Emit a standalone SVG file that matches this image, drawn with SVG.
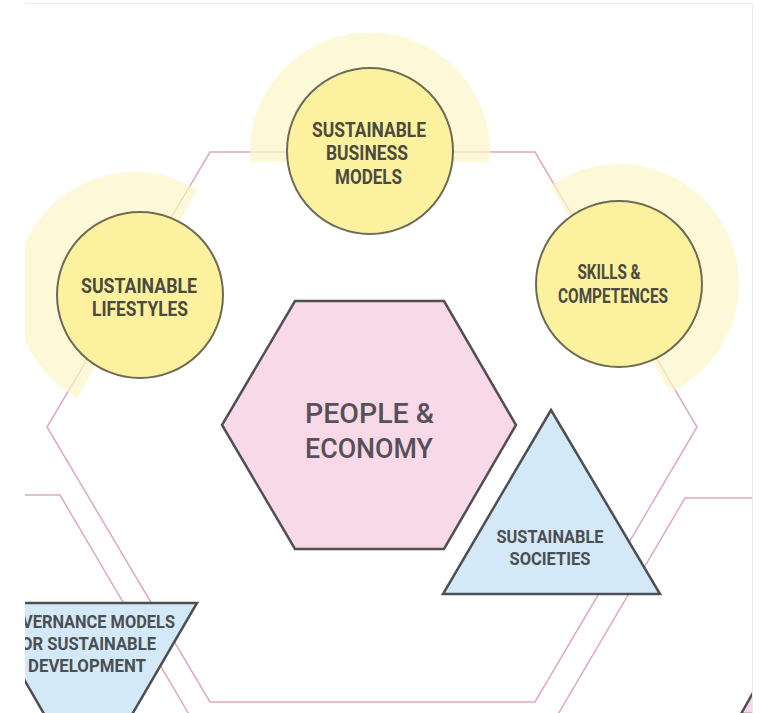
<svg xmlns="http://www.w3.org/2000/svg" width="769" height="713" viewBox="0 0 769 713">
  <style>
    .grid { fill: none; stroke: #e2a6c4; stroke-width: 1.5; stroke-linejoin: miter; }
    .halo { fill: #fcf5c6; opacity: 0.7; }
    .circle { fill: #fcf19e; stroke: #6d6b56; stroke-width: 2; }
    .hex { fill: #f8d9e8; stroke: #524e52; stroke-width: 2.5; stroke-linejoin: miter; }
    .tri { fill: #d4e9f8; stroke: #4c5052; stroke-width: 2.5; stroke-linejoin: miter; }
    .lbl { font-family: "Roboto", "Liberation Sans", "DejaVu Sans", sans-serif; font-weight: 700; fill: #4a4a3f; text-anchor: middle; }
    .lblb { font-family: "Roboto", "Liberation Sans", "DejaVu Sans", sans-serif; font-weight: 700; fill: #4b4f52; }
    .big { font-family: "Roboto", "Liberation Sans", "DejaVu Sans", sans-serif; font-weight: 500; fill: #56505a; text-anchor: middle; }
    .frame { fill: none; stroke: #ececec; stroke-width: 1; }
  </style>
  <defs>
    <clipPath id="page">
      <rect x="25" y="3" width="727" height="710"/>
    </clipPath>
  </defs>
  <rect x="0" y="0" width="769" height="713" fill="#ffffff"/>
  <g clip-path="url(#page)">
    <g id="connectors">
      <polygon class="grid" points="210,152 535,152 697,427 535,702 210,702 47,427"/>
      <polyline class="grid" points="10,495 60,495 200,733"/>
      <polyline class="grid" points="760,498 685,498 547,733"/>
    </g>
    <g id="halos">
      <path class="halo" transform="translate(370,151)" d="M -119.6 11 A 120 120 0 1 1 119.6 11 Z"/>
      <path class="halo" transform="translate(140,295) rotate(-60)" d="M -119.96 -3 A 120 120 0 1 1 119.96 -3 Z"/>
      <path class="halo" transform="translate(619,284) rotate(60)" d="M -119.6 10 A 120 120 0 1 1 119.6 10 Z"/>
    </g>
    <g id="sustainable-business-models">
      <circle class="circle" cx="370" cy="151" r="83"/>
      <text class="lbl" font-size="20" x="369" y="136.5" textLength="114" lengthAdjust="spacingAndGlyphs">SUSTAINABLE</text>
      <text class="lbl" font-size="20" x="367" y="160" textLength="82" lengthAdjust="spacingAndGlyphs">BUSINESS</text>
      <text class="lbl" font-size="20" x="368.5" y="184" textLength="67" lengthAdjust="spacingAndGlyphs">MODELS</text>
    </g>
    <g id="sustainable-lifestyles">
      <circle class="circle" cx="140" cy="295" r="83"/>
      <text class="lbl" font-size="20" x="139" y="293" textLength="116" lengthAdjust="spacingAndGlyphs">SUSTAINABLE</text>
      <text class="lbl" font-size="20" x="140" y="316" textLength="96" lengthAdjust="spacingAndGlyphs">LIFESTYLES</text>
    </g>
    <g id="skills-competences">
      <circle class="circle" cx="619" cy="284" r="83"/>
      <text class="lbl" font-size="20" x="609" y="279" textLength="63" lengthAdjust="spacingAndGlyphs">SKILLS &amp;</text>
      <text class="lbl" font-size="20" x="613" y="303" textLength="110" lengthAdjust="spacingAndGlyphs">COMPETENCES</text>
    </g>
    <g id="people-economy">
      <polygon class="hex" points="295,301 444,301 516,425 444,549 295,549 222,425"/>
      <text class="big" font-size="28" x="369.5" y="423" textLength="129" lengthAdjust="spacingAndGlyphs">PEOPLE &amp;</text>
      <text class="big" font-size="28" x="369" y="458" textLength="128" lengthAdjust="spacingAndGlyphs">ECONOMY</text>
    </g>
    <g id="sustainable-societies">
      <polygon class="tri" points="551,410 660,594 443,594"/>
      <text class="lbl" font-size="18" x="550" y="543" textLength="107" lengthAdjust="spacingAndGlyphs" style="fill:#4b4f52">SUSTAINABLE</text>
      <text class="lbl" font-size="18" x="550" y="565" textLength="81" lengthAdjust="spacingAndGlyphs" style="fill:#4b4f52">SOCIETIES</text>
    </g>
    <g id="governance-models">
      <polygon class="tri" points="-20,603 197,603 88,790"/>
      <text class="lblb" font-size="19" x="22" y="628" textLength="153" lengthAdjust="spacingAndGlyphs">VERNANCE MODELS</text>
      <text class="lblb" font-size="19" x="21" y="650" textLength="135" lengthAdjust="spacingAndGlyphs">OR SUSTAINABLE</text>
      <text class="lblb" font-size="19" x="28" y="672" textLength="118" lengthAdjust="spacingAndGlyphs">DEVELOPMENT</text>
    </g>
    <g id="corner-hexagon">
      <polygon class="hex" points="741,714 754,691 790,691 790,714"/>
    </g>
  </g>
  <g id="frame">
    <line class="frame" x1="25" y1="3.5" x2="752" y2="3.5"/>
    <line class="frame" x1="752.5" y1="3" x2="752.5" y2="713"/>
  </g>
</svg>
